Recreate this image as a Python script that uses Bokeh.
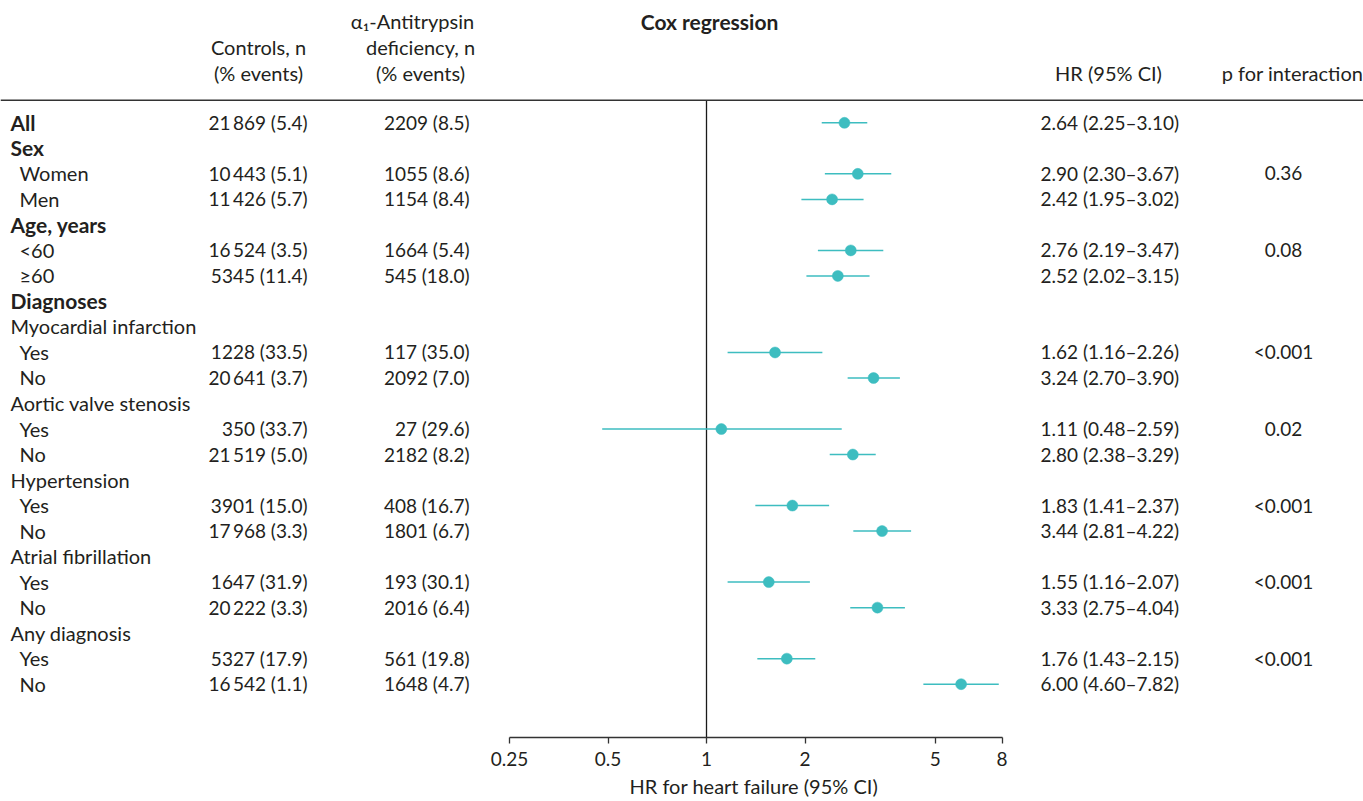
from bokeh.plotting import figure
from bokeh.models import ColumnDataSource, LabelSet, Label, Span, FixedTicker, Range1d, Title
from bokeh.core.properties import value
from bokeh.embed import file_html
from bokeh.resources import INLINE

# ---------------- data ----------------
row_labels = ["All", "Sex", "Women", "Men", "Age, years", "<60", "\u226560", "Diagnoses",
              "Myocardial infarction", "Yes", "No", "Aortic valve stenosis", "Yes", "No",
              "Hypertension", "Yes", "No", "Atrial fibrillation", "Yes", "No",
              "Any diagnosis", "Yes", "No"]
row_kind = ["bold", "bold", "item", "item", "bold", "item", "item", "bold",
            "group", "item", "item", "group", "item", "item",
            "group", "item", "item", "group", "item", "item",
            "group", "item", "item"]
controls = ["21\u2009869 (5.4)", "", "10\u2009443 (5.1)", "11\u2009426 (5.7)", "", "16\u2009524 (3.5)",
            "5345 (11.4)", "", "", "1228 (33.5)", "20\u2009641 (3.7)", "", "350 (33.7)",
            "21\u2009519 (5.0)", "", "3901 (15.0)", "17\u2009968 (3.3)", "", "1647 (31.9)",
            "20\u2009222 (3.3)", "", "5327 (17.9)", "16\u2009542 (1.1)"]
aatd = ["2209 (8.5)", "", "1055 (8.6)", "1154 (8.4)", "", "1664 (5.4)", "545 (18.0)", "", "",
        "117 (35.0)", "2092 (7.0)", "", "27 (29.6)", "2182 (8.2)", "", "408 (16.7)",
        "1801 (6.7)", "", "193 (30.1)", "2016 (6.4)", "", "561 (19.8)", "1648 (4.7)"]
hr_rows = [0, 2, 3, 5, 6, 9, 10, 12, 13, 15, 16, 18, 19, 21, 22]
hr = [2.64, 2.90, 2.42, 2.76, 2.52, 1.62, 3.24, 1.11, 2.80, 1.83, 3.44, 1.55, 3.33, 1.76, 6.00]
hr_lo = [2.25, 2.30, 1.95, 2.19, 2.02, 1.16, 2.70, 0.48, 2.38, 1.41, 2.81, 1.16, 2.75, 1.43, 4.60]
hr_hi = [3.10, 3.67, 3.02, 3.47, 3.15, 2.26, 3.90, 2.59, 3.29, 2.37, 4.22, 2.07, 4.04, 2.15, 7.82]
p_rows = [2, 5, 9, 12, 15, 18, 21]
p_vals = ["0.36", "0.08", "<0.001", "0.02", "<0.001", "<0.001", "<0.001"]
x_ticks = [0.25, 0.5, 1, 2, 5, 8]
x_tick_labels = ["0.25", "0.5", "1", "2", "5", "8"]

# ---------------- layout ----------------
FONT = "Lato"
FS = "20px"        # labels and headers
FS_B = "21px"      # bold labels
FS_N = "19px"      # numbers
TXT = "#231f20"
TEAL = "#3dbdc0"
W, H = 1363, 801
PX_OCT = 98.5          # pixels per doubling of HR
X1 = 706               # canvas x of HR = 1
ROW = 25.55            # pixels per row
ROW0 = 122.5           # canvas y of first row (marks)
TXT_DY = -0.5 / ROW    # text nudge relative to the marks (data units)
FRAME_BOT = 738        # canvas y of the axis line
x_start = 2 ** ((0 - X1) / PX_OCT)
x_end = 2 ** ((W - X1) / PX_OCT)
y_top = (0 - ROW0) / ROW
y_bot = (FRAME_BOT - ROW0) / ROW
y_line = (100 - ROW0) / ROW

def ydat(px):
    return (px - ROW0) / ROW

p = figure(width=W, height=H, x_axis_type="log", y_axis_location=None,
           x_range=Range1d(x_start, x_end), y_range=Range1d(y_bot, y_top),
           output_backend="svg", toolbar_location=None,
           min_border_left=0, min_border_right=0, min_border_top=0,
           min_border_bottom=H - FRAME_BOT)
p.grid.visible = False
p.outline_line_color = None
p.background_fill_color = "white"
p.border_fill_color = "white"

ax = p.xaxis[0]
ax.bounds = (0.25, 8)
ax.ticker = FixedTicker(ticks=x_ticks, minor_ticks=[])
ax.major_label_overrides = {t: l for t, l in zip(x_ticks, x_tick_labels)}
ax.major_tick_in = 0
ax.major_tick_out = 6
ax.minor_tick_in = 0
ax.minor_tick_out = 0
ax.axis_line_color = "#333333"
ax.axis_line_width = 1.3
ax.major_tick_line_color = "#333333"
ax.major_tick_line_width = 1.3
ax.major_label_text_font = FONT
ax.major_label_text_font_size = FS_N
ax.major_label_text_color = TXT
ax.major_label_standoff = 8

# axis title, centred under the axis bounds
p.add_layout(Title(text="HR for heart failure (95% CI)", align="left", offset=629,
                   text_font=FONT, text_font_size=FS, text_font_style="normal",
                   text_color=TXT, standoff=7), "below")

# reference lines
p.add_layout(Span(location=y_line, dimension="width", line_color="#333333", line_width=1.5))
p.segment(x0=[1], y0=[y_line], x1=[1], y1=[y_bot], line_color="#1a1a1a", line_width=1.3)

# forest marks
p.segment(x0=hr_lo, y0=hr_rows, x1=hr_hi, y1=hr_rows, line_color=TEAL, line_width=1.5)
p.scatter(x=hr, y=hr_rows, size=11, fill_color=TEAL, line_color=TEAL, line_width=0.5)

# table text
def labelset(src, x, align="left", style="normal", fs=FS):
    src = dict(src)
    src["y"] = [r + TXT_DY for r in src["y"]]
    ls = LabelSet(x=x, y="y", text="t", source=ColumnDataSource(src),
                  x_units="screen", y_units="data", text_align=align,
                  text_baseline="middle", text_font=value(FONT), text_font_size=value(fs),
                  text_font_style=value(style), text_color=value(TXT))
    p.add_layout(ls)

rows = list(range(len(row_labels)))
def pick(kind):
    return {"t": [l for l, k in zip(row_labels, row_kind) if k == kind],
            "y": [r for r, k in zip(rows, row_kind) if k == kind]}
labelset(pick("bold"), 10, style="bold", fs=FS_B)
labelset(pick("group"), 10)
labelset(pick("item"), 19)
labelset({"t": controls, "y": rows}, 307, align="right", fs=FS_N)
labelset({"t": aatd, "y": rows}, 469, align="right", fs=FS_N)
hr_text = ["%.2f (%.2f\u2013%.2f)" % (a, b, c) for a, b, c in zip(hr, hr_lo, hr_hi)]
labelset({"t": hr_text, "y": hr_rows}, 1040, fs=FS_N)
labelset({"t": p_vals, "y": p_rows}, 1283, align="center", fs=FS_N)

# headers
def header(text, x, y_px, style="normal", fs=FS):
    p.add_layout(Label(x=x, y=ydat(y_px), x_units="screen", y_units="data",
                       text=text, text_align="center", text_baseline="middle",
                       text_font=FONT, text_font_size=fs, text_font_style=style,
                       text_color=TXT))

header("Controls, n", 258, 47)
header("(% events)", 258, 73)
header("\u03b1\u2081-Antitrypsin", 412, 21)
header("deficiency, n", 420, 47)
header("(% events)", 420, 73)
header("Cox regression", 709, 21, style="bold", fs=FS_B)
header("HR (95% CI)", 1108, 73)
header("p for interaction", 1292, 73)

open("out.html", "w").write(file_html(p, INLINE))
